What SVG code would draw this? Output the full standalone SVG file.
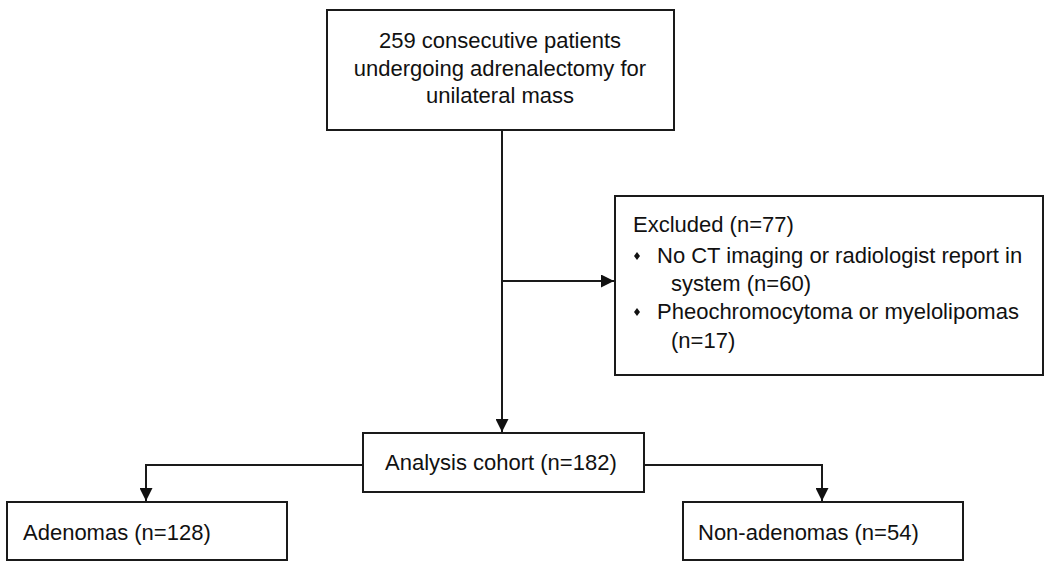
<svg xmlns="http://www.w3.org/2000/svg" width="1050" height="569" viewBox="0 0 1050 569">
<style>
.box{fill:#fff;stroke:#1a1a1a;stroke-width:2}
.t{font-family:"Liberation Sans",Arial,sans-serif;font-size:22px;fill:#111}
.c{text-anchor:middle}
.ln{fill:none;stroke:#1a1a1a;stroke-width:2}
.bul{fill:#111}
</style>
<defs>
<marker id="ah" viewBox="0 0 10 10" refX="10" refY="5" markerWidth="6.5" markerHeight="6.5" markerUnits="strokeWidth" orient="auto">
<path d="M0,0 L10,5 L0,10 z" fill="#111"/>
</marker>
</defs>
<rect width="1050" height="569" fill="#fff"/>
<g id="connectors">
<line class="ln" x1="502" y1="130" x2="502" y2="432" marker-end="url(#ah)"/>
<line class="ln" x1="502" y1="281" x2="614" y2="281" marker-end="url(#ah)"/>
<polyline class="ln" points="363,465 146,465 146,501" marker-end="url(#ah)"/>
<polyline class="ln" points="644,465 822,465 822,501" marker-end="url(#ah)"/>
</g>
<g id="node-start">
<rect class="box" x="327" y="10" width="347" height="120"/>
<text class="t c" x="500" y="48">259 consecutive patients</text>
<text class="t c" x="500" y="76">undergoing adrenalectomy for</text>
<text class="t c" x="500" y="103">unilateral mass</text>
</g>
<g id="node-excluded">
<rect class="box" x="615" y="196" width="428" height="179"/>
<text class="t" x="633" y="232">Excluded (n=77)</text>
<polygon class="bul" points="637,252 640,256 637,260 634,256"/>
<text class="t" x="657" y="263">No CT imaging or radiologist report in</text>
<text class="t" x="671" y="291">system (n=60)</text>
<polygon class="bul" points="637,308 640,312 637,316 634,312"/>
<text class="t" x="657" y="319">Pheochromocytoma or myelolipomas</text>
<text class="t" x="671" y="348">(n=17)</text>
</g>
<g id="node-cohort">
<rect class="box" x="363" y="433" width="281" height="59"/>
<text class="t" x="385" y="470">Analysis cohort (n=182)</text>
</g>
<g id="node-adenomas">
<rect class="box" x="7" y="502" width="280" height="58"/>
<text class="t" x="23" y="540">Adenomas (n=128)</text>
</g>
<g id="node-nonadenomas">
<rect class="box" x="683" y="502" width="280" height="58"/>
<text class="t" x="698" y="540">Non-adenomas (n=54)</text>
</g>
</svg>
